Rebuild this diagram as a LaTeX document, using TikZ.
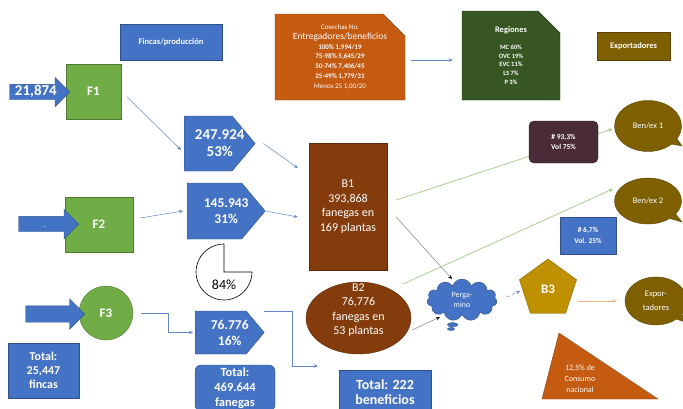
\documentclass[tikz,border=0pt]{standalone}
\usepackage{fontspec}
\setmainfont{Carlito}
\usetikzlibrary{shapes.geometric,shapes.symbols,shapes.arrows,shapes.misc,shapes.callouts,arrows.meta,calc}
\definecolor{azul}{HTML}{4472C4}
\definecolor{verde}{HTML}{70AD47}
\definecolor{naranja}{HTML}{C55A11}
\definecolor{verdeosc}{HTML}{375623}
\definecolor{cafe}{HTML}{843C0C}
\definecolor{oro}{HTML}{7F6000}
\definecolor{dorado}{HTML}{BF9000}
\definecolor{vino}{HTML}{4A2B38}
\definecolor{verdeclaro}{HTML}{92C56E}
\definecolor{salmon}{HTML}{F4B183}
\newcommand\tam[2]{\fontsize{#1}{#2}\selectfont}

\begin{document}
\begin{tikzpicture}[x=1pt, y=-1pt, line width=0.4pt,
    caja/.style={draw=#1!70!black, fill=#1, text=white, align=center, inner sep=0pt},
    texto/.style={text=white, align=center},
    flecha/.style={caja=azul, single arrow, single arrow head extend=7pt, text height=11pt, text depth=4pt, inner xsep=1pt, minimum height=60, anchor=tip},
    casa/.style={caja=azul, signal, signal to=east, signal pointer angle=100, anchor=west},
    chaflan/.style={caja=#1, chamfered rectangle, chamfered rectangle corners=north east, chamfered rectangle xsep=11pt, chamfered rectangle ysep=11pt},
    globo/.style={caja=oro, ellipse callout, minimum width=67, font=\tam{8.5}{14}},
    con/.style={azul!85, line width=0.5pt, -{Stealth[length=4pt,width=3.5pt]}},
    gris/.style={gray, line width=0.5pt, -{Stealth[length=4pt,width=3.5pt,black]}},
    verdel/.style={verdeclaro, line width=0.6pt, -{Stealth[length=4pt,width=3.5pt]}}]
    \useasboundingbox (0,0) rectangle (683,408);

    % fincas
    \node[caja=azul, minimum width=102, minimum height=36, font=\bfseries\tam{8.5}{10}] (fincas) at (171,42) {Fincas/producción};
    \node[caja=verde, minimum width=55, minimum height=55, font=\bfseries\tam{13}{15}] (f1) at (93.5,91.5) {F1};
    \node[caja=verde, minimum width=68, minimum height=55, font=\bfseries\tam{13}{15}] (f2) at (99,224.5) {F2};
    \node[caja=verde, circle, minimum size=54, font=\bfseries\tam{13}{15}] (f3) at (106,313) {F3};
    \node[flecha, font=\bfseries\tam{15}{17}] (e1) at (70,92) {21,874};
    \node[flecha, font=\tam{8}{9}] (e2) at (79,224) {.};
    \node[flecha, minimum height=59, text height=12pt] (e3) at (85,314) {};
    \node[caja=azul, minimum width=71, minimum height=55, font=\bfseries\tam{12}{14}] (tfincas) at (43.5,370.5) {Total:\\25,447\\fincas};

    % fanegas por grupo
    \node[casa, minimum width=71, minimum height=55] (p1) at (184,143.5) {};
    \node[texto, font=\bfseries\tam{15}{17}] (p1t) at ($(p1.west)!0.5!(p1.east)$) {247.924\\53\%};
    \node[casa, minimum width=78, minimum height=56] (p2) at (187,211) {};
    \node[texto, font=\bfseries\tam{13.5}{16}] (p2t) at ($(p2.west)!0.5!(p2.east)$) {145.943\\31\%};
    \node[casa, minimum width=69, minimum height=43] (p3) at (195,332.5) {};
    \node[texto, font=\bfseries\tam{13.5}{16}] (p3t) at ($(p3.west)!0.5!(p3.east)$) {76.776\\16\%};
    \node[caja=azul, rounded corners=6pt, minimum width=80, minimum height=46, font=\bfseries\tam{12.5}{15}] (tfanegas) at (235,388) {Total:\\469.644\\fanegas};
    \draw[line width=0.6pt, fill=white] (224,244) -- (224,272) -- (252,272) arc[start angle=0, end angle=270, radius=28] -- cycle;
    \node[font=\tam{14}{16}] (pct) at (224,285) {84\%};

    % cosechas y regiones
    \node[chaflan=naranja, minimum width=130, minimum height=86, font=\tam{7}{9.7}] (cosechas) at (340,57)
      {Cosechas No.\\{\tam{9.5}{11}Entregadores/beneficios}\\{\bfseries 100\% 1,994/19}\\{\bfseries 75-98\% 5,645/29}\\{\bfseries 50-74\% 7,406/45}\\{\bfseries 25-49\% 1,779/31}\\Menos 25 1,00/20};
    \node[chaflan=verdeosc, minimum width=98, minimum height=89, font=\bfseries\tam{6.5}{8.7}] (regiones) at (511,55.5)
      {{\tam{8.5}{10}Regiones}\\[8pt]MC 60\%\\OVC 19\%\\EVC 11\%\\LS 7\%\\P 3\%};
    \node[caja=oro, minimum width=73, minimum height=28, font=\bfseries\tam{8.5}{10}] (export) at (633.5,46) {Exportadores};

    % beneficios
    \node[caja=cafe, minimum width=78, minimum height=127, font=\tam{12}{14.5}] (b1) at (348,206.5) {B1\\393,868\\fanegas en\\169 plantas};
    \node[caja=cafe, ellipse, minimum width=105, minimum height=72] (b2) at (358.5,318) {};
    \node[texto, font=\tam{12}{14.3}] (b2t) at (358.5,310) {B2\\76,776\\fanegas en\\53 plantas};
    \node[caja=azul, minimum width=92, minimum height=44, font=\bfseries\tam{14}{15.5}] (tbenef) at (385,392) {Total: 222\\beneficios};
    \node[caja=azul, cloud callout, cloud puffs=11, aspect=1.8, minimum width=70, minimum height=42, callout absolute pointer={(451,329)}, font=\tam{8}{10}] (perg) at (462,300) {Perga-\\mino};
    \node[caja=dorado, regular polygon, regular polygon sides=5, minimum size=60, font=\bfseries\tam{13}{15}] (b3) at (548,289) {B3};
    \node[globo, minimum height=51, callout absolute pointer={(682,146)}] (ben1) at (648,126) {Ben/ex 1};
    \node[globo, minimum height=46, callout absolute pointer={(682,222)}] (ben2) at (648,201) {Ben/ex 2};
    \node[globo, minimum width=62, minimum height=48, callout absolute pointer={(690,324)}] (expor) at (656,301) {Expor-\\tadores};
    \node[caja=azul, minimum width=56, minimum height=37, font=\bfseries\tam{7.5}{10.5}] (v2) at (588,235.5) {\# 6,7\%\\Vol. 25\%};
    \draw[draw=naranja!70!black, fill=naranja] (559,333) -- (658,399) -- (542,399) -- cycle;
    \node[texto, font=\tam{8}{11}] (consumo) at (580,379) {12,5\% de\\Consumo\\nacional};

    % conectores
    \coordinate (libre) at (318,366);
    \draw[con] ($(f1.east)+(6,5.5)$) -- ($(p1.west)+(-3,6.5)$);
    \draw[con] ($(f2.east)+(7,-6.5)$) -- ($(p2.west)+(-4,0)$);
    \draw[con] ($(f3.east)+(8,0)$) -- ++(27,0) |- ($(p3.west)+(-2,0)$);
    \draw[con] ($(p3.east)+(0,-21.5)$) -| ($(libre)+(-26,0)$) -- (libre);
    \draw[con] ($(p1.east)+(8,0)$) -- ($(b1.west)+(-11,-38.5)$);
    \draw[con] (p2.east) -- ($(b1.west)+(-11,10.5)$);
    \draw[con] ($(cosechas.east)+(6,3)$) -- ($(regiones.west)+(-9,4.5)$);
    \draw[gris] ($(b1.east)+(9,10.5)$) -- ($(perg.center)+(-10,-21)$);
    \draw[gris] ($(b2.east)+(1,12)$) -- ($(perg.center)+(-22,17)$);
    \draw[verdel] ($(b1.east)+(9,-6.5)$) -- ($(ben1.west)+(-2,3)$);
    \draw[verdel] ($(b2.center)+(44.5,-34)$) -- ($(ben2.west)+(-1.5,-12)$);
    \draw[con, dashed] ($(perg.east)+(10,-3)$) -- ($(b3.center)+(-28,2)$);
    \draw[salmon, line width=0.6pt, -{Stealth[length=4pt,width=3.5pt]}] ($(b3.center)+(30,12)$) -- ($(expor.west)+(-8,0)$);

    \node[caja=vino, rounded corners=5pt, minimum width=69, minimum height=42, font=\bfseries\tam{7.5}{10.5}] (v1) at (563.5,142) {\# 93,3\%\\Vol 75\%};
\end{tikzpicture}
\end{document}
